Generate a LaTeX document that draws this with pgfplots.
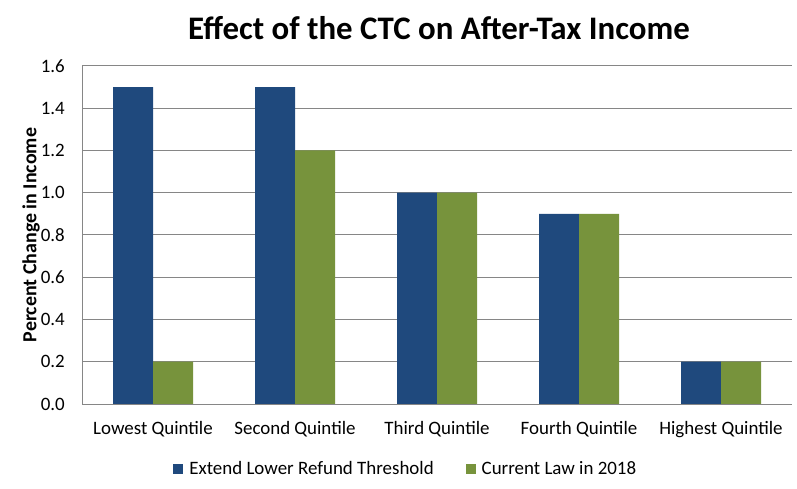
\documentclass[border=0pt]{standalone}
\usepackage{pgfplots}
\pgfplotsset{compat=1.18}
\usepackage{fontspec}
\setmainfont{Carlito}
\definecolor{ctcblue}{RGB}{31,73,125}
\definecolor{ctcgreen}{RGB}{119,147,60}
\definecolor{gridgray}{RGB}{134,134,134}

\begin{document}
\begin{tikzpicture}
\useasboundingbox (0,0) rectangle (797bp,489bp);
\node[font=\fontsize{33}{38}\selectfont\bfseries, anchor=base] at (439bp,449bp)
  {Effect of the CTC on After-Tax Income};
\begin{axis}[
  at={(82bp,85bp)}, anchor=south west,
  scale only axis,
  width=710bp, height=338bp,
  ybar=0pt, bar width=40bp,
  xmin=-0.5, xmax=4.5,
  ymin=0, ymax=1.6,
  ytick={0,0.2,...,1.6},
  xtick={0,1,2,3,4},
  xticklabels={Lowest Quintile, Second Quintile, Third Quintile, Fourth Quintile, Highest Quintile},
  yticklabel style={/pgf/number format/.cd, fixed, fixed zerofill, precision=1, /tikz/.cd,
    inner sep=0pt, xshift=-17bp},
  /pgf/number format/assume math mode=true,
  ticklabel style={font=\fontsize{19}{22}\selectfont},
  xticklabel style={inner sep=0pt, yshift=-17.5bp},
  major tick length=0pt,
  ymajorgrids,
  grid style={gridgray, line width=1bp},
  axis x line*=bottom,
  axis y line*=left,
  axis line style={gridgray, line width=1bp},
  ylabel={Percent Change in Income},
  ylabel style={at={(axis description cs:-0.0718,0.5)}, anchor=center,
    font=\fontsize{20}{24}\selectfont\bfseries},
  legend columns=2,
  legend style={at={(0.456,-0.192)}, anchor=center, draw=none,
    font=\fontsize{19}{22}\selectfont,
    /tikz/every even column/.append style={column sep=30bp}},
  legend image code/.code={\fill[#1] (0bp,-5bp) rectangle (10bp,5bp); \path (0bp,0bp) (14bp,0bp);},
]
\addplot[fill=ctcblue, draw=none] coordinates {(0,1.5) (1,1.5) (2,1.0) (3,0.9) (4,0.2)};
\addlegendentry{Extend Lower Refund Threshold}
\addplot[fill=ctcgreen, draw=none] coordinates {(0,0.2) (1,1.2) (2,1.0) (3,0.9) (4,0.2)};
\addlegendentry{Current Law in 2018}
\end{axis}
\end{tikzpicture}
\end{document}
